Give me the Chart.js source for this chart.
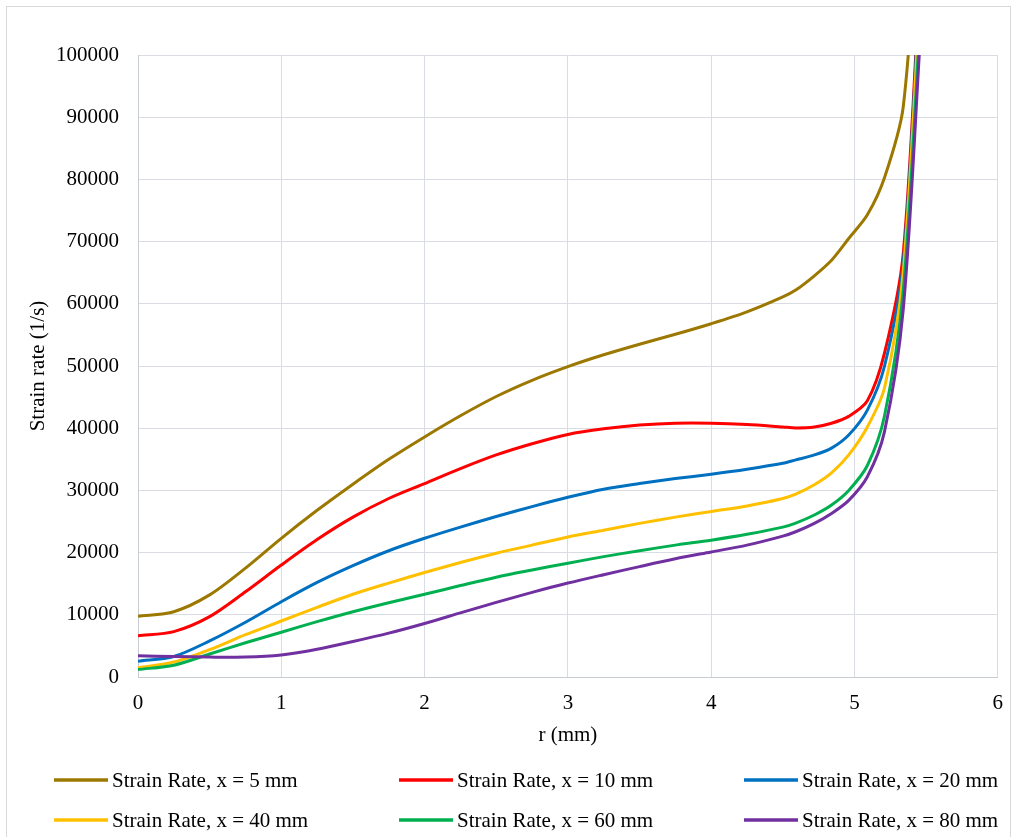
<!DOCTYPE html>
<html>
<head>
<meta charset="utf-8">
<script src="https://cdn.jsdelivr.net/npm/chart.js@4.4.1/dist/chart.umd.min.js"></script>
<style>
  html, body { margin: 0; padding: 0; background: #ffffff; }
  #wrap { width: 1017px; height: 837px; position: relative; }
</style>
</head>
<body>
<div id="wrap"><canvas id="c" width="1017" height="837"></canvas></div>
<script>
// r positions (mm)
const rValues = [0, 0.25, 0.5, 0.75, 1.0, 1.25, 1.5, 1.75, 2.0, 2.25, 2.5, 2.75, 3.0, 3.25, 3.5, 3.75, 4.0, 4.25, 4.5, 4.59, 4.72, 4.84, 4.96, 5.09, 5.21, 5.34, 5.46];

const seriesLabels = [
  "Strain Rate, x = 5 mm",
  "Strain Rate, x = 10 mm",
  "Strain Rate, x = 20 mm",
  "Strain Rate, x = 40 mm",
  "Strain Rate, x = 60 mm",
  "Strain Rate, x = 80 mm"
];

const seriesColors = ["#9C7800", "#FF0000", "#0070C0", "#FFC000", "#00B050", "#7030A0"];

const strain5mm  = [9750, 10500, 13200, 17500, 22300, 26800, 31000, 35000, 38600, 42000, 45100, 47700, 49900, 51800, 53500, 55100, 56800, 58700, 61100, 62200, 64500, 67000, 70500, 74300, 80300, 91600, 128000];
const strain10mm = [6650, 7300, 9700, 13700, 18000, 22100, 25700, 28700, 31100, 33500, 35700, 37500, 39000, 39900, 40500, 40800, 40800, 40600, 40200, 40050, 40200, 40800, 41900, 44400, 52100, 68000, 114000];
const strain20mm = [2550, 3300, 5800, 8800, 12100, 15200, 17900, 20300, 22300, 24100, 25800, 27400, 28900, 30200, 31100, 31900, 32600, 33400, 34350, 34900, 35700, 36800, 38900, 42900, 50000, 66500, 112600];
const strain40mm = [1500, 2400, 4400, 6800, 9000, 11200, 13300, 15100, 16800, 18400, 19900, 21200, 22500, 23600, 24700, 25700, 26600, 27500, 28700, 29400, 30900, 32800, 35700, 40200, 46500, 65000, 110600];
const strain60mm = [1200, 1900, 3700, 5500, 7200, 8900, 10500, 11950, 13300, 14700, 16050, 17200, 18300, 19350, 20300, 21200, 22000, 22950, 24100, 24750, 26050, 27650, 30000, 34000, 42000, 62000, 106000];
const strain80mm = [3400, 3300, 3200, 3200, 3550, 4450, 5700, 7050, 8600, 10300, 12000, 13600, 15100, 16450, 17750, 19000, 20100, 21200, 22650, 23350, 24700, 26300, 28400, 32200, 39500, 59000, 103000];

const allSeries = [strain5mm, strain10mm, strain20mm, strain40mm, strain60mm, strain80mm];

const xTicks = [0, 1, 2, 3, 4, 5, 6];
const yTicks = [0, 10000, 20000, 30000, 40000, 50000, 60000, 70000, 80000, 90000, 100000];

const FONT = "'Liberation Serif', 'Times New Roman', serif";
const GRID = "#d9dde3";

const datasets = allSeries.map((vals, i) => ({
  label: seriesLabels[i],
  data: vals.map((v, k) => ({ x: rValues[k], y: v })),
  borderColor: seriesColors[i],
  backgroundColor: seriesColors[i],
  borderWidth: 3,
  pointRadius: 0,
  pointHoverRadius: 0,
  fill: false,
  tension: 0.3,
  order: allSeries.length - 1 - i
}));

const frameAndLegend = {
  id: 'frameAndLegend',
  beforeDraw(chart) {
    const ctx = chart.ctx;
    ctx.save();
    ctx.strokeStyle = "#d9d9d9";
    ctx.lineWidth = 1;
    ctx.strokeRect(6.5, 6.5, 1004, 845);
    ctx.restore();
  },
  afterDraw(chart) {
    const ctx = chart.ctx;
    ctx.save();
    ctx.font = "21px " + FONT;
    ctx.textBaseline = 'middle';
    ctx.textAlign = 'left';
    chart.data.datasets.forEach((ds, i) => {
      const col = i % 3, row = Math.floor(i / 3);
      const x0 = 54 + col * 345;
      const y0 = 780 + row * 40;
      ctx.strokeStyle = ds.borderColor;
      ctx.lineWidth = 3.5;
      ctx.beginPath();
      ctx.moveTo(x0, y0);
      ctx.lineTo(x0 + 54, y0);
      ctx.stroke();
      ctx.fillStyle = "#000000";
      ctx.fillText(ds.label, x0 + 58, y0 + 1);
    });
    ctx.restore();
  }
};

new Chart(document.getElementById('c'), {
  type: 'line',
  data: { datasets },
  options: {
    responsive: false,
    devicePixelRatio: 1,
    animation: false,
    events: [],
    layout: { padding: { top: 55, left: 0, right: 19, bottom: 80 } },
    plugins: {
      legend: { display: false },
      tooltip: { enabled: false },
      title: { display: false }
    },
    scales: {
      x: {
        type: 'linear',
        min: 0, max: 6,
        afterFit: (s) => { s.height = 80; },
        afterBuildTicks: (s) => { s.ticks = xTicks.map(v => ({ value: v })); },
        grid: { color: GRID, lineWidth: 1, drawTicks: false },
        border: { color: "#c8ccd3", width: 1 },
        ticks: { padding: 14, color: "#000", font: { family: FONT, size: 21 }, callback: (v) => String(v) },
        title: { display: true, text: "r (mm)", color: "#000", font: { family: FONT, size: 21 }, padding: { top: 0, bottom: 9 } }
      },
      y: {
        type: 'linear',
        min: 0, max: 100000,
        afterFit: (s) => { s.width = 138; },
        afterBuildTicks: (s) => { s.ticks = yTicks.map(v => ({ value: v })); },
        grid: { color: GRID, lineWidth: 1, drawTicks: false },
        border: { color: "#c8ccd3", width: 1 },
        ticks: { padding: 19, color: "#000", font: { family: FONT, size: 21 }, callback: (v) => String(v) },
        title: { display: true, text: "Strain rate (1/s)", color: "#000", font: { family: FONT, size: 21 }, padding: { top: 26, bottom: 0 } }
      }
    }
  },
  plugins: [frameAndLegend]
});
</script>
</body>
</html>
